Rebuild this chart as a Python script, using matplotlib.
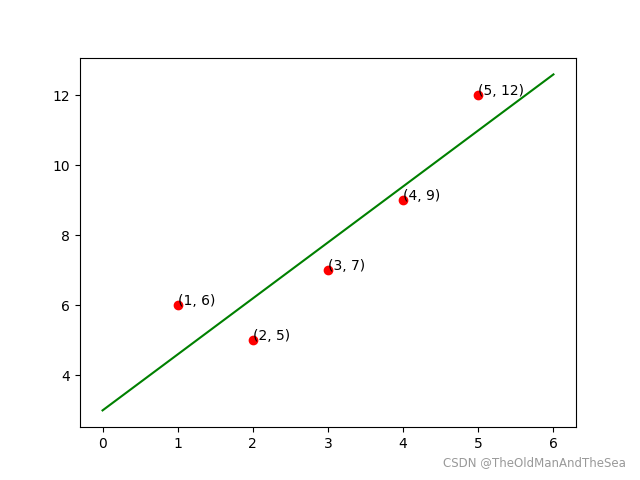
from matplotlib import pyplot as plt

xs = [1, 2, 3, 4, 5]
ys = [6, 5, 7, 9, 12]

line_x = [0, 6]
line_y = [3.0, 12.6]

fig = plt.figure(figsize=(6.4, 4.8), dpi=100)
ax = fig.add_subplot(111)

ax.scatter(xs, ys, color='red', zorder=3)
ax.plot(line_x, line_y, color='green')

for x, y in zip(xs, ys):
    ax.text(x, y, '(%d, %d)' % (x, y))

fig.text(0.978, 0.022, 'CSDN @TheOldManAndTheSea', color='#999999',
         fontsize=8.5, ha='right', va='bottom')

fig.savefig('out.png')
